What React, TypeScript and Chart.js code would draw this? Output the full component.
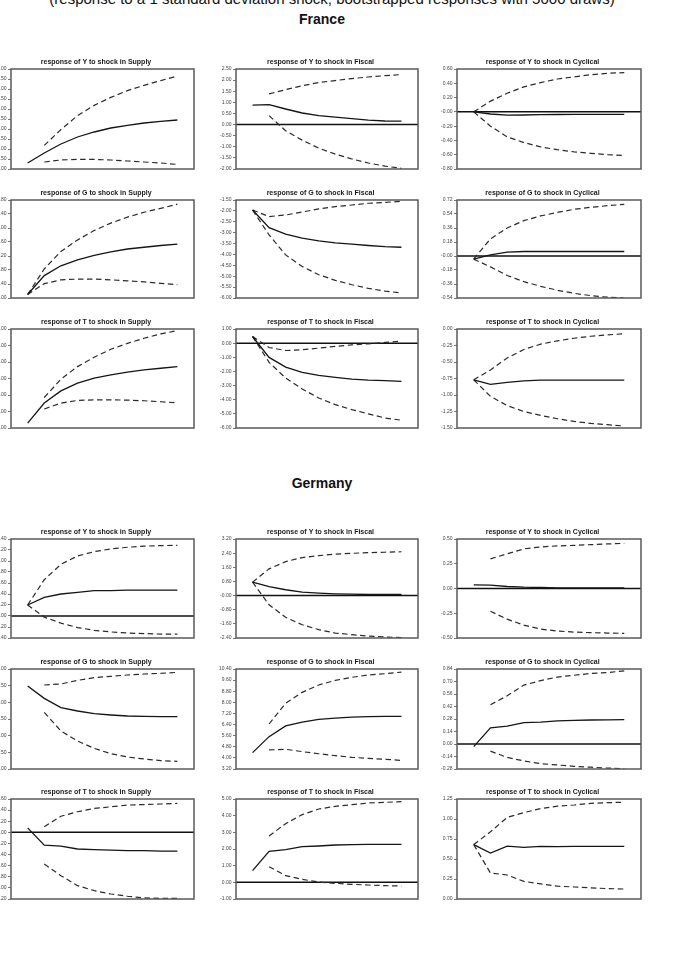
import React, { useEffect, useRef } from "react";
import { Chart, registerables } from "chart.js";

Chart.register(...registerables);

const FONT = "'Liberation Sans', Arial, Helvetica, sans-serif";

// Horizons of the impulse responses
const periods = [1, 2, 3, 4, 5, 6, 7, 8, 9, 10];

// ---------------- France ----------------
const frYSupplyTicks = ["5.00", "4.50", "4.00", "3.50", "3.00", "2.50", "2.00", "1.50", "1.00", "0.50", "0.00"];
const frYSupplyMean = [0.3, 0.8, 1.25, 1.6, 1.85, 2.05, 2.18, 2.3, 2.38, 2.45];
const frYSupplyUpper = [null, 1.18, 1.97, 2.67, 3.18, 3.58, 3.92, 4.18, 4.42, 4.65];
const frYSupplyLower = [null, 0.35, 0.45, 0.48, 0.48, 0.45, 0.4, 0.35, 0.3, 0.23];

const frYFiscalTicks = ["2.50", "2.00", "1.50", "1.00", "0.50", "0.00", "-0.50", "-1.00", "-1.50", "-2.00"];
const frYFiscalMean = [0.87, 0.9, 0.7, 0.52, 0.4, 0.33, 0.27, 0.2, 0.16, 0.15];
const frYFiscalUpper = [null, 1.38, 1.57, 1.75, 1.89, 1.98, 2.07, 2.14, 2.2, 2.25];
const frYFiscalLower = [null, 0.4, -0.28, -0.7, -1.06, -1.33, -1.55, -1.73, -1.87, -1.97];

const frYCyclicalTicks = ["0.60", "0.40", "0.20", "-0.00", "-0.20", "-0.40", "-0.60", "-0.80"];
const frYCyclicalMean = [0.0, -0.03, -0.047, -0.044, -0.04, -0.037, -0.035, -0.035, -0.035, -0.035];
const frYCyclicalUpper = [0.0, 0.15, 0.26, 0.35, 0.41, 0.46, 0.49, 0.52, 0.54, 0.55];
const frYCyclicalLower = [0.0, -0.2, -0.35, -0.43, -0.49, -0.53, -0.56, -0.58, -0.6, -0.61];

const frGSupplyTicks = ["2.80", "2.40", "2.00", "1.60", "1.20", "0.80", "0.40", "0.00"];
const frGSupplyMean = [0.1, 0.64, 0.92, 1.09, 1.22, 1.32, 1.4, 1.45, 1.5, 1.54];
const frGSupplyUpper = [0.1, 0.83, 1.33, 1.66, 1.93, 2.14, 2.31, 2.45, 2.56, 2.68];
const frGSupplyLower = [0.1, 0.41, 0.52, 0.54, 0.54, 0.52, 0.49, 0.46, 0.42, 0.38];

const frGFiscalTicks = ["-1.50", "-2.00", "-2.50", "-3.00", "-3.50", "-4.00", "-4.50", "-5.00", "-5.50", "-6.00"];
const frGFiscalMean = [-1.96, -2.77, -3.07, -3.25, -3.38, -3.47, -3.53, -3.59, -3.64, -3.67];
const frGFiscalUpper = [-1.96, -2.26, -2.19, -2.05, -1.91, -1.8, -1.73, -1.65, -1.61, -1.56];
const frGFiscalLower = [-1.96, -3.1, -4.02, -4.55, -4.93, -5.19, -5.39, -5.56, -5.68, -5.77];

const frGCyclicalTicks = ["0.72", "0.54", "0.36", "0.18", "-0.00", "-0.18", "-0.36", "-0.54"];
const frGCyclicalMean = [-0.04, 0.015, 0.05, 0.058, 0.058, 0.058, 0.058, 0.058, 0.058, 0.058];
const frGCyclicalUpper = [-0.04, 0.22, 0.36, 0.455, 0.515, 0.56, 0.6, 0.626, 0.647, 0.664];
const frGCyclicalLower = [-0.04, -0.14, -0.25, -0.33, -0.39, -0.44, -0.48, -0.51, -0.53, -0.54];

const frTSupplyTicks = ["6.00", "5.00", "4.00", "3.00", "2.00", "1.00", "0.00"];
const frTSupplyMean = [0.3, 1.51, 2.25, 2.72, 3.02, 3.22, 3.38, 3.52, 3.62, 3.72];
const frTSupplyUpper = [null, 1.85, 2.96, 3.72, 4.29, 4.77, 5.13, 5.44, 5.7, 5.9];
const frTSupplyLower = [null, 1.15, 1.51, 1.67, 1.71, 1.71, 1.69, 1.65, 1.59, 1.53];

const frTFiscalTicks = ["1.00", "0.00", "-1.00", "-2.00", "-3.00", "-4.00", "-5.00", "-6.00"];
const frTFiscalMean = [0.47, -1.01, -1.69, -2.07, -2.28, -2.42, -2.54, -2.61, -2.65, -2.7];
const frTFiscalUpper = [0.47, -0.31, -0.52, -0.47, -0.35, -0.23, -0.12, -0.05, 0.05, 0.14];
const frTFiscalLower = [0.47, -1.36, -2.47, -3.24, -3.88, -4.35, -4.7, -5.0, -5.29, -5.45];

const frTCyclicalTicks = ["0.00", "-0.25", "-0.50", "-0.75", "-1.00", "-1.25", "-1.50"];
const frTCyclicalMean = [-0.77, -0.84, -0.81, -0.785, -0.775, -0.775, -0.775, -0.775, -0.775, -0.775];
const frTCyclicalUpper = [-0.77, -0.62, -0.44, -0.31, -0.23, -0.18, -0.14, -0.11, -0.09, -0.07];
const frTCyclicalLower = [-0.77, -1.02, -1.16, -1.25, -1.31, -1.36, -1.4, -1.43, -1.45, -1.47];

// ---------------- Germany ----------------
const deYSupplyTicks = ["1.40", "1.20", "1.00", "0.80", "0.60", "0.40", "0.20", "0.00", "-0.20", "-0.40"];
const deYSupplyMean = [0.2, 0.34, 0.4, 0.43, 0.46, 0.46, 0.47, 0.47, 0.47, 0.47];
const deYSupplyUpper = [0.2, 0.66, 0.94, 1.09, 1.17, 1.22, 1.25, 1.27, 1.28, 1.285];
const deYSupplyLower = [0.2, -0.02, -0.13, -0.21, -0.26, -0.29, -0.31, -0.32, -0.33, -0.33];

const deYFiscalTicks = ["3.20", "2.40", "1.60", "0.80", "-0.00", "-0.80", "-1.60", "-2.40"];
const deYFiscalMean = [0.76, 0.51, 0.33, 0.19, 0.14, 0.1, 0.08, 0.06, 0.06, 0.06];
const deYFiscalUpper = [0.76, 1.51, 1.92, 2.15, 2.26, 2.34, 2.39, 2.43, 2.45, 2.48];
const deYFiscalLower = [0.76, -0.52, -1.23, -1.65, -1.93, -2.12, -2.21, -2.29, -2.34, -2.38];

const deYCyclicalTicks = ["0.50", "0.25", "0.00", "-0.25", "-0.50"];
const deYCyclicalMean = [0.037, 0.034, 0.02, 0.013, 0.01, 0.007, 0.006, 0.005, 0.005, 0.005];
const deYCyclicalUpper = [null, 0.3, 0.35, 0.4, 0.42, 0.43, 0.436, 0.443, 0.45, 0.456];
const deYCyclicalLower = [null, -0.23, -0.31, -0.37, -0.41, -0.43, -0.44, -0.446, -0.45, -0.453];

const deGSupplyTicks = ["3.00", "2.50", "2.00", "1.50", "1.00", "0.50", "0.00"];
const deGSupplyMean = [2.49, 2.12, 1.84, 1.74, 1.66, 1.62, 1.59, 1.58, 1.57, 1.57];
const deGSupplyUpper = [null, 2.52, 2.55, 2.66, 2.74, 2.78, 2.82, 2.85, 2.87, 2.9];
const deGSupplyLower = [null, 1.7, 1.14, 0.84, 0.62, 0.46, 0.36, 0.3, 0.25, 0.23];

const deGFiscalTicks = ["10.40", "9.60", "8.80", "8.00", "7.20", "6.40", "5.60", "4.80", "4.00", "3.20"];
const deGFiscalMean = [4.38, 5.53, 6.3, 6.58, 6.78, 6.87, 6.94, 6.97, 6.99, 6.99];
const deGFiscalUpper = [null, 6.44, 7.93, 8.72, 9.25, 9.58, 9.8, 9.97, 10.06, 10.18];
const deGFiscalLower = [null, 4.57, 4.62, 4.45, 4.3, 4.16, 4.04, 3.97, 3.9, 3.82];

const deGCyclicalTicks = ["0.84", "0.70", "0.56", "0.42", "0.28", "0.14", "0.00", "-0.14", "-0.28"];
const deGCyclicalMean = [-0.03, 0.18, 0.2, 0.24, 0.246, 0.258, 0.265, 0.269, 0.27, 0.272];
const deGCyclicalUpper = [null, 0.44, 0.54, 0.66, 0.71, 0.75, 0.77, 0.79, 0.8, 0.82];
const deGCyclicalLower = [null, -0.08, -0.15, -0.19, -0.22, -0.235, -0.25, -0.26, -0.27, -0.276];

const deTSupplyTicks = ["0.60", "0.40", "0.20", "0.00", "-0.20", "-0.40", "-0.60", "-0.80", "-1.00", "-1.20"];
const deTSupplyMean = [0.08, -0.23, -0.25, -0.3, -0.31, -0.32, -0.33, -0.33, -0.34, -0.34];
const deTSupplyUpper = [null, 0.1, 0.29, 0.37, 0.43, 0.46, 0.49, 0.5, 0.51, 0.52];
const deTSupplyLower = [null, -0.57, -0.78, -0.96, -1.05, -1.11, -1.15, -1.18, -1.19, -1.19];

const deTFiscalTicks = ["5.00", "4.00", "3.00", "2.00", "1.00", "0.00", "-1.00"];
const deTFiscalMean = [0.7, 1.86, 1.96, 2.14, 2.18, 2.24, 2.26, 2.28, 2.28, 2.28];
const deTFiscalUpper = [null, 2.78, 3.52, 4.06, 4.4, 4.56, 4.66, 4.76, 4.8, 4.84];
const deTFiscalLower = [null, 0.94, 0.4, 0.18, 0.02, -0.06, -0.12, -0.16, -0.2, -0.22];

const deTCyclicalTicks = ["1.25", "1.00", "0.75", "0.50", "0.25", "0.00"];
const deTCyclicalMean = [0.68, 0.575, 0.66, 0.646, 0.658, 0.654, 0.658, 0.658, 0.658, 0.658];
const deTCyclicalUpper = [0.68, 0.84, 1.02, 1.08, 1.13, 1.16, 1.175, 1.196, 1.204, 1.21];
const deTCyclicalLower = [0.68, 0.325, 0.3, 0.22, 0.19, 0.16, 0.15, 0.14, 0.13, 0.125];

type Panel = {
  title: string;
  row: number;
  col: number;
  ticks: string[];
  mean: (number | null)[];
  upper: (number | null)[];
  lower: (number | null)[];
};

const panels: Panel[] = [
  { title: "response of Y to shock in Supply", row: 0, col: 0, ticks: frYSupplyTicks, mean: frYSupplyMean, upper: frYSupplyUpper, lower: frYSupplyLower },
  { title: "response of Y to shock in Fiscal", row: 0, col: 1, ticks: frYFiscalTicks, mean: frYFiscalMean, upper: frYFiscalUpper, lower: frYFiscalLower },
  { title: "response of Y to shock in Cyclical", row: 0, col: 2, ticks: frYCyclicalTicks, mean: frYCyclicalMean, upper: frYCyclicalUpper, lower: frYCyclicalLower },
  { title: "response of G to shock in Supply", row: 1, col: 0, ticks: frGSupplyTicks, mean: frGSupplyMean, upper: frGSupplyUpper, lower: frGSupplyLower },
  { title: "response of G to shock in Fiscal", row: 1, col: 1, ticks: frGFiscalTicks, mean: frGFiscalMean, upper: frGFiscalUpper, lower: frGFiscalLower },
  { title: "response of G to shock in Cyclical", row: 1, col: 2, ticks: frGCyclicalTicks, mean: frGCyclicalMean, upper: frGCyclicalUpper, lower: frGCyclicalLower },
  { title: "response of T to shock in Supply", row: 2, col: 0, ticks: frTSupplyTicks, mean: frTSupplyMean, upper: frTSupplyUpper, lower: frTSupplyLower },
  { title: "response of T to shock in Fiscal", row: 2, col: 1, ticks: frTFiscalTicks, mean: frTFiscalMean, upper: frTFiscalUpper, lower: frTFiscalLower },
  { title: "response of T to shock in Cyclical", row: 2, col: 2, ticks: frTCyclicalTicks, mean: frTCyclicalMean, upper: frTCyclicalUpper, lower: frTCyclicalLower },
  { title: "response of Y to shock in Supply", row: 3, col: 0, ticks: deYSupplyTicks, mean: deYSupplyMean, upper: deYSupplyUpper, lower: deYSupplyLower },
  { title: "response of Y to shock in Fiscal", row: 3, col: 1, ticks: deYFiscalTicks, mean: deYFiscalMean, upper: deYFiscalUpper, lower: deYFiscalLower },
  { title: "response of Y to shock in Cyclical", row: 3, col: 2, ticks: deYCyclicalTicks, mean: deYCyclicalMean, upper: deYCyclicalUpper, lower: deYCyclicalLower },
  { title: "response of G to shock in Supply", row: 4, col: 0, ticks: deGSupplyTicks, mean: deGSupplyMean, upper: deGSupplyUpper, lower: deGSupplyLower },
  { title: "response of G to shock in Fiscal", row: 4, col: 1, ticks: deGFiscalTicks, mean: deGFiscalMean, upper: deGFiscalUpper, lower: deGFiscalLower },
  { title: "response of G to shock in Cyclical", row: 4, col: 2, ticks: deGCyclicalTicks, mean: deGCyclicalMean, upper: deGCyclicalUpper, lower: deGCyclicalLower },
  { title: "response of T to shock in Supply", row: 5, col: 0, ticks: deTSupplyTicks, mean: deTSupplyMean, upper: deTSupplyUpper, lower: deTSupplyLower },
  { title: "response of T to shock in Fiscal", row: 5, col: 1, ticks: deTFiscalTicks, mean: deTFiscalMean, upper: deTFiscalUpper, lower: deTFiscalLower },
  { title: "response of T to shock in Cyclical", row: 5, col: 2, ticks: deTCyclicalTicks, mean: deTCyclicalMean, upper: deTCyclicalUpper, lower: deTCyclicalLower },
];

// Plot-area boxes (left/right per column, top/bottom per row), in page pixels
const COLS = [
  [11, 194],
  [236, 418],
  [457, 641],
];
const ROWS = [
  [69, 169],
  [200, 298],
  [329, 428],
  [539, 638],
  [669, 769],
  [799, 899],
];
const AXIS_W = 17; // y tick labels + tick marks
const TITLE_H = 13; // band above the plot area
const XAXIS_H = 12; // band below the plot area
const PAD_R = 4;

function PanelChart({ panel }: { panel: Panel }) {
  const ref = useRef<HTMLCanvasElement>(null);
  const [fl, fr] = COLS[panel.col];
  const [ft, fb] = ROWS[panel.row];
  const width = AXIS_W + (fr - fl) + PAD_R;
  const height = TITLE_H + (fb - ft) + XAXIS_H;

  useEffect(() => {
    const canvas = ref.current;
    if (!canvas) return;
    const tickVals = panel.ticks.map((t) => parseFloat(t)).sort((a, b) => a - b);
    const labelFor = (v: number) => {
      const hit = panel.ticks.find((t) => Math.abs(parseFloat(t) - v) < 1e-9);
      return hit ?? "";
    };
    const pts = (arr: (number | null)[]) => arr.map((y, i) => ({ x: periods[i], y }));

    // zero reference line under the curves, frame and panel title on top
    const framePlugin = {
      id: "panelFrame",
      beforeDatasetsDraw(chart: any) {
        const { ctx, chartArea } = chart;
        const y0 = chart.scales.y.getPixelForValue(0);
        if (y0 > chartArea.top + 1 && y0 < chartArea.bottom - 1) {
          ctx.save();
          ctx.strokeStyle = "#111";
          ctx.lineWidth = 1.5;
          ctx.beginPath();
          ctx.moveTo(chartArea.left, y0);
          ctx.lineTo(chartArea.right, y0);
          ctx.stroke();
          ctx.restore();
        }
      },
      afterDraw(chart: any) {
        const { ctx, chartArea } = chart;
        ctx.save();
        ctx.strokeStyle = "#5a5a5a";
        ctx.lineWidth = 1.5;
        ctx.strokeRect(chartArea.left, chartArea.top, chartArea.right - chartArea.left, chartArea.bottom - chartArea.top);
        ctx.font = `bold 7px ${FONT}`;
        ctx.fillStyle = "#1a1a1a";
        ctx.textAlign = "center";
        ctx.textBaseline = "middle";
        ctx.fillText(panel.title, (chartArea.left + chartArea.right) / 2 - 6.5, chartArea.top - 6.5);
        ctx.restore();
      },
    };

    const band = {
      borderColor: "#2a2a2a",
      borderWidth: 1.2,
      borderDash: [5.5, 3.5],
      pointRadius: 0,
      fill: false,
      tension: 0,
    };

    const chart = new Chart(canvas, {
      type: "line",
      data: {
        datasets: [
          { data: pts(panel.mean), borderColor: "#151515", borderWidth: 1.3, pointRadius: 0, fill: false, tension: 0 },
          { data: pts(panel.upper), ...band },
          { data: pts(panel.lower), ...band },
        ],
      } as any,
      options: {
        animation: false,
        responsive: false,
        maintainAspectRatio: false,
        devicePixelRatio: 1,
        layout: { padding: { left: 0, right: PAD_R, top: TITLE_H, bottom: 0 } },
        plugins: {
          legend: { display: false },
          tooltip: { enabled: false },
          title: { display: false },
        },
        scales: {
          x: {
            type: "linear",
            min: 0,
            max: 11,
            afterBuildTicks: (s: any) => {
              s.ticks = periods.map((v) => ({ value: v }));
            },
            afterFit: (s: any) => {
              s.height = XAXIS_H;
            },
            grid: { display: false },
            border: { display: false },
            ticks: {
              autoSkip: false,
              maxRotation: 0,
              padding: 4,
              color: "#444",
              font: { family: FONT, size: 5 },
            },
          },
          y: {
            type: "linear",
            min: tickVals[0],
            max: tickVals[tickVals.length - 1],
            afterBuildTicks: (s: any) => {
              s.ticks = tickVals.map((v) => ({ value: v }));
            },
            afterFit: (s: any) => {
              s.width = AXIS_W;
            },
            grid: { drawOnChartArea: false, drawTicks: true, tickLength: 3, color: "#555", lineWidth: 0.8 },
            border: { display: false },
            ticks: {
              autoSkip: false,
              padding: 1.5,
              color: "#444",
              font: { family: FONT, size: 5 },
              callback: (v: any) => labelFor(Number(v)),
            },
          },
        },
      } as any,
      plugins: [framePlugin],
    });
    return () => chart.destroy();
  }, [panel]);

  return (
    <canvas
      ref={ref}
      width={width}
      height={height}
      style={{ position: "absolute", left: fl - AXIS_W, top: ft - TITLE_H, width, height }}
    />
  );
}

const headingStyle: React.CSSProperties = {
  position: "absolute",
  left: 0,
  width: 644,
  textAlign: "center",
  fontFamily: FONT,
  fontSize: 14,
  lineHeight: "16px",
  color: "#111",
  whiteSpace: "nowrap",
};

export default function App() {
  return (
    <div
      style={{
        position: "absolute",
        left: 0,
        top: 0,
        width: 683,
        height: 960,
        overflow: "hidden",
        background: "#fff",
      }}
    >
      <div style={{ ...headingStyle, width: 664, top: -9, fontSize: 15 }}>
        (response to a 1 standard deviation shock, bootstrapped responses with 5000 draws)
      </div>
      <div style={{ ...headingStyle, top: 11, fontWeight: "bold" }}>France</div>
      <div style={{ ...headingStyle, top: 475, fontWeight: "bold" }}>Germany</div>
      {panels.map((p, i) => (
        <PanelChart key={i} panel={p} />
      ))}
    </div>
  );
}
